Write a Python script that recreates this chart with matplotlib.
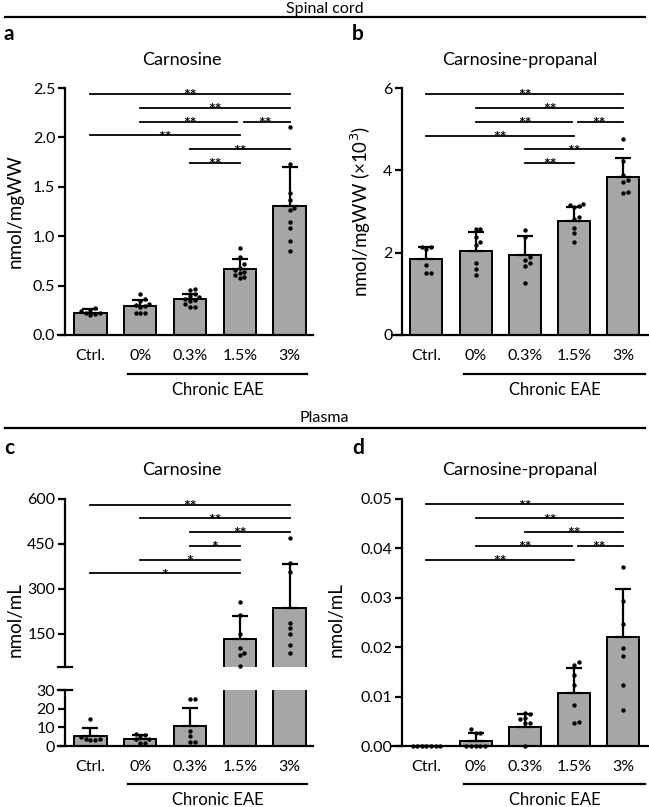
import numpy as np
import matplotlib.pyplot as plt
from matplotlib.lines import Line2D

plt.rcParams['font.family'] = ['Lato', 'DejaVu Sans']

W, H = 649, 807

groups = ['Ctrl.', '0%', '0.3%', '1.5%', '3%']

# a: spinal cord, carnosine (nmol/mgWW)
sc_carn_mean = [0.22, 0.295, 0.365, 0.672, 1.31]
sc_carn_sd = [0.04, 0.06, 0.055, 0.10, 0.39]
sc_carn_pts = [
    [0.27, 0.25, 0.24, 0.225, 0.22, 0.21, 0.20],
    [0.41, 0.36, 0.34, 0.31, 0.30, 0.29, 0.28, 0.22, 0.22, 0.22],
    [0.47, 0.46, 0.41, 0.39, 0.38, 0.36, 0.35, 0.34, 0.31, 0.28, 0.28],
    [0.88, 0.79, 0.72, 0.68, 0.66, 0.64, 0.63, 0.61, 0.59, 0.58],
    [2.11, 1.73, 1.44, 1.37, 1.29, 1.27, 1.14, 1.08, 0.95, 0.85],
]
sc_carn_sig = [(0, 4, '**'), (1, 4, '**'), (1, 3, '**'), (3, 4, '**'),
               (0, 3, '**'), (2, 4, '**'), (2, 3, '**')]

# b: spinal cord, carnosine-propanal (nmol/mgWW x10^3)
sc_prop_mean = [1.84, 2.04, 1.95, 2.78, 3.84]
sc_prop_sd = [0.30, 0.45, 0.45, 0.33, 0.47]
sc_prop_pts = [
    [2.14, 2.14, 2.10, 1.69, 1.50, 1.50],
    [2.57, 2.57, 2.38, 2.27, 2.19, 1.74, 1.60, 1.46],
    [2.55, 2.39, 1.90, 1.82, 1.74, 1.68, 1.27],
    [3.19, 3.15, 3.14, 3.12, 2.86, 2.81, 2.60, 2.47, 2.25],
    [4.76, 4.22, 3.89, 3.77, 3.71, 3.47, 3.45],
]
sc_prop_sig = sc_carn_sig

# c: plasma, carnosine (nmol/mL)
pl_carn_mean = [5.4, 3.6, 10.9, 132, 236]
pl_carn_sd = [4.4, 2.3, 9.2, 75, 147]
pl_carn_pts = [
    [14.3, 4.8, 3.6, 3.2, 3.0, 3.6],
    [5.9, 6.2, 4.6, 3.6, 1.4, 1.4, 3.6],
    [25, 25, 8.2, 5.5, 2.1, 2.1],
    [257, 211, 147, 102, 86, 79, 40],
    [469, 387, 357, 186, 167, 148, 110, 85],
]
pl_carn_sig = [(0, 4, '**'), (1, 4, '**'), (2, 4, '**'), (2, 3, '*'),
               (1, 3, '*'), (0, 3, '*')]

# d: plasma, carnosine-propanal (nmol/mL)
pl_prop_mean = [0.0, 0.0011, 0.0039, 0.0107, 0.0220]
pl_prop_sd = [0.0, 0.0016, 0.0025, 0.0050, 0.0098]
pl_prop_pts = [
    [0, 0, 0, 0, 0, 0, 0],
    [0.0035, 0.0027, 0.0027, 0, 0, 0, 0, 0],
    [0.0066, 0.0064, 0.0056, 0.0054, 0.0046, 0.0046, 0.0],
    [0.0171, 0.0164, 0.0143, 0.0124, 0.0082, 0.0049, 0.0047],
    [0.0362, 0.0294, 0.0247, 0.0198, 0.0182, 0.0124, 0.0072],
]
pl_prop_sig = [(0, 4, '**'), (1, 4, '**'), (2, 4, '**'), (1, 3, '**'),
               (3, 4, '**'), (0, 3, '**')]

BAR = '#a6a6a6'
XLIM_L = (-0.65, 4.47)
XLIM_R = (-0.70, 4.50)
TICK_FS = 11.5


def fx(px):
    return px / W


def fy(py):
    return 1 - py / H


def add_ax(left, right, top, bottom):
    return fig.add_axes([fx(left), fy(bottom), fx(right - left), (bottom - top) / H])


def swarm(ax, x0, vals, dot=4.6):
    vals = np.asarray(vals, float)
    pix = ax.transData.transform(np.column_stack([np.full(len(vals), x0), vals]))
    offs = np.zeros(len(vals))
    placed = []
    for i in np.argsort(vals):
        py = pix[i, 1]
        for k in range(40):
            cand = (k + 1) // 2 * dot * (1 if k % 2 else -1)
            if all((cand - ox) ** 2 + (py - oy) ** 2 >= dot ** 2 for ox, oy in placed):
                break
        placed.append((cand, py))
        offs[i] = cand
    pts = np.column_stack([pix[:, 0] + offs, pix[:, 1]])
    return ax.transData.inverted().transform(pts)[:, 0]


def style(ax, xlim, spine_x, ylim, yticks, ylabels=None, bottom=True):
    ax.set_xlim(*xlim)
    ax.set_ylim(*ylim)
    for s in ['top', 'right']:
        ax.spines[s].set_visible(False)
    ax.spines['left'].set_position(('data', spine_x))
    ax.spines['left'].set_linewidth(1.6)
    ax.spines['bottom'].set_linewidth(1.6)
    ax.set_yticks(yticks)
    if ylabels is not None:
        ax.set_yticklabels(ylabels)
    ax.tick_params(axis='y', length=5, width=1.6, labelsize=TICK_FS, pad=2)
    if bottom:
        ax.set_xticks(range(5))
        ax.set_xticklabels(groups)
        ax.tick_params(axis='x', length=0, labelsize=TICK_FS, pad=10)
    else:
        ax.spines['bottom'].set_visible(False)
        ax.set_xticks([])
    ax.patch.set_visible(False)


def draw_bars(ax, mean, sd, pts, lo=None, hi=None):
    x = np.arange(5)
    ax.bar(x, mean, width=0.65, color=BAR, edgecolor='k', linewidth=1.4, zorder=2)
    ax.errorbar(x, mean, yerr=[np.zeros(5), sd], fmt='none', ecolor='k',
                elinewidth=1.6, capsize=6, capthick=1.6, zorder=3)
    for i, v in enumerate(pts):
        v = np.asarray(v, float)
        if lo is not None:
            v = v[(v >= lo) & (v <= hi)]
        if len(v) == 0:
            continue
        xs = swarm(ax, i, v)
        ax.scatter(xs, v, s=10, color='k', zorder=4, linewidths=0, clip_on=False)


def draw_sig(ax, sig, levels, top, step):
    for (a, b, lab), lev in zip(sig, levels):
        y = top - lev * step
        x1, x2 = a, b
        for (a2, b2, _), lev2 in zip(sig, levels):
            if lev2 == lev and (a2, b2) != (a, b):
                if b == a2:
                    x2 = b - 0.05
                if a == b2:
                    x1 = a + 0.08
        ax.plot([x1, x2], [y, y], color='k', lw=1.3, zorder=5, clip_on=False)
        ax.annotate(lab, ((a + b) / 2, y), xytext=(0, -4.5), textcoords='offset points',
                    ha='center', va='baseline', fontsize=11.5, fontweight='bold',
                    zorder=5, annotation_clip=False)


def group_label(left, right, y_line):
    fig.add_artist(Line2D([fx(left), fx(right)], [fy(y_line)] * 2, color='k', lw=1.6,
                          transform=fig.transFigure))
    fig.text(fx((left + right) / 2), fy(y_line + 16), 'Chronic EAE', ha='center',
             va='center', fontsize=12)


fig = plt.figure(figsize=(W / 100, H / 100), dpi=100)

# section headers
for label, y_txt, y_line, y_rule in [('Spinal cord', 13, 17, 17), ('Plasma', 422, 428, 428)]:
    fig.text(0.5, fy(y_txt), label, ha='center', va='baseline', fontsize=11.5)
    fig.add_artist(Line2D([fx(5), fx(645)], [fy(y_rule)] * 2, color='k', lw=1.6,
                          transform=fig.transFigure))

# panel letters
for lab, x, y in [('a', 4, 34), ('b', 352, 34), ('c', 4, 448), ('d', 352, 448)]:
    fig.text(fx(x), fy(y), lab, fontsize=15, fontweight='bold', ha='left', va='center')

# ---- a
ax = add_ax(58, 313, 88, 335)
style(ax, XLIM_L, -0.51, (0, 2.5), [0, 0.5, 1.0, 1.5, 2.0, 2.5],
      ['0.0', '0.5', '1.0', '1.5', '2.0', '2.5'])
draw_bars(ax, sc_carn_mean, sc_carn_sd, sc_carn_pts)
draw_sig(ax, sc_carn_sig, [0, 1, 2, 2, 3, 4, 5], 2.44, 0.14)
fig.text(fx(182), fy(60), 'Carnosine', ha='center', va='center', fontsize=13)
fig.text(fx(15), fy(211), 'nmol/mgWW', rotation=90, ha='center', va='center', fontsize=13.5)
group_label(128, 307, 374)

# ---- b
ax = add_ax(392, 648, 88, 335)
style(ax, XLIM_R, -0.49, (0, 6), [0, 2, 4, 6])
draw_bars(ax, sc_prop_mean, sc_prop_sd, sc_prop_pts)
draw_sig(ax, sc_prop_sig, [0, 1, 2, 2, 3, 4, 5], 5.85, 0.335)
fig.text(fx(520), fy(60), 'Carnosine-propanal', ha='center', va='center', fontsize=13)
fig.text(fx(361), fy(211), 'nmol/mgWW (×10$^3$)', rotation=90, ha='center',
         va='center', fontsize=13.5)
group_label(464, 645, 374)

# ---- c (broken axis)
axu = add_ax(58, 313, 499, 667)
style(axu, XLIM_L, -0.51, (38, 600), [150, 300, 450, 600], bottom=False)
draw_bars(axu, pl_carn_mean, pl_carn_sd, pl_carn_pts, lo=38, hi=600)
draw_sig(axu, pl_carn_sig, [0, 1, 2, 3, 4, 5], 581, 46)
axu.plot([-0.65, -0.37], [38, 38], color='k', lw=1.6, clip_on=False)

axl = add_ax(58, 313, 690, 746)
style(axl, XLIM_L, -0.51, (0, 30), [0, 10, 20, 30])
draw_bars(axl, pl_carn_mean, pl_carn_sd, pl_carn_pts, lo=0, hi=30)
axl.plot([-0.65, -0.37], [30, 30], color='k', lw=1.6, clip_on=False)
fig.text(fx(182), fy(470), 'Carnosine', ha='center', va='center', fontsize=13)
fig.text(fx(15), fy(620), 'nmol/mL', rotation=90, ha='center', va='center', fontsize=13.5)
group_label(128, 307, 784)

# ---- d
ax = add_ax(392, 648, 499, 746)
style(ax, XLIM_R, -0.49, (0, 0.05), [0, 0.01, 0.02, 0.03, 0.04, 0.05],
      ['0.00', '0.01', '0.02', '0.03', '0.04', '0.05'])
draw_bars(ax, pl_prop_mean, pl_prop_sd, pl_prop_pts)
draw_sig(ax, pl_prop_sig, [0, 1, 2, 3, 3, 4], 0.0489, 0.0028)
fig.text(fx(520), fy(470), 'Carnosine-propanal', ha='center', va='center', fontsize=13)
fig.text(fx(336), fy(620), 'nmol/mL', rotation=90, ha='center', va='center', fontsize=13.5)
group_label(464, 645, 784)

plt.savefig('out.png', dpi=100)
